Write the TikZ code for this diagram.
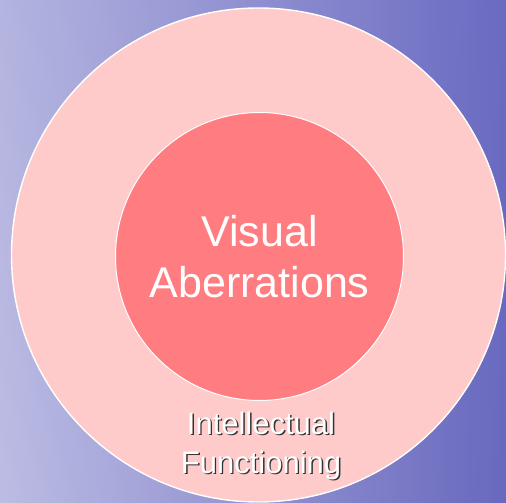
\documentclass[tikz,border=0pt]{standalone}
\usepackage{fontspec}
\setmainfont{Liberation Sans}
\usetikzlibrary{shadings}
\definecolor{bgTL}{HTML}{B4B4E0}
\definecolor{bgTR}{HTML}{6A6AC2}
\definecolor{bgBL}{HTML}{BCBCE4}
\definecolor{bgBR}{HTML}{6868BE}
\definecolor{outerfill}{HTML}{FFCBCA}
\definecolor{innerfill}{HTML}{FF7C80}
\tikzset{
  ring/.style={circle, draw=white, line width=1.4pt, inner sep=0pt},
  bigtext/.style={text=white, align=center, font=\fontsize{43}{51}\selectfont},
  smalltext/.style={align=center, font=\fontsize{31}{39}\selectfont},
}
\begin{document}
\begin{tikzpicture}[x=1pt, y=-1pt]
\useasboundingbox (0,0) rectangle (506,503);
\shade[upper left=bgTL, upper right=bgTR, lower left=bgBL, lower right=bgBR] (0,0) rectangle (506,503);
\node[ring, fill=outerfill, minimum size=494pt] (outer) at (258.5,255) {};
\node[ring, fill=innerfill, minimum size=288pt, line width=1pt] (inner) at (259.5,256.5) {};
\node[bigtext] (vis) at (inner.center) {Visual\\Aberrations};
\node[smalltext, text=black!80] (intshadow) at (262.4,447.4) {Intellectual\\Functioning};
\node[smalltext, text=white] (int) at (261,446) {Intellectual\\Functioning};
\end{tikzpicture}
\end{document}
